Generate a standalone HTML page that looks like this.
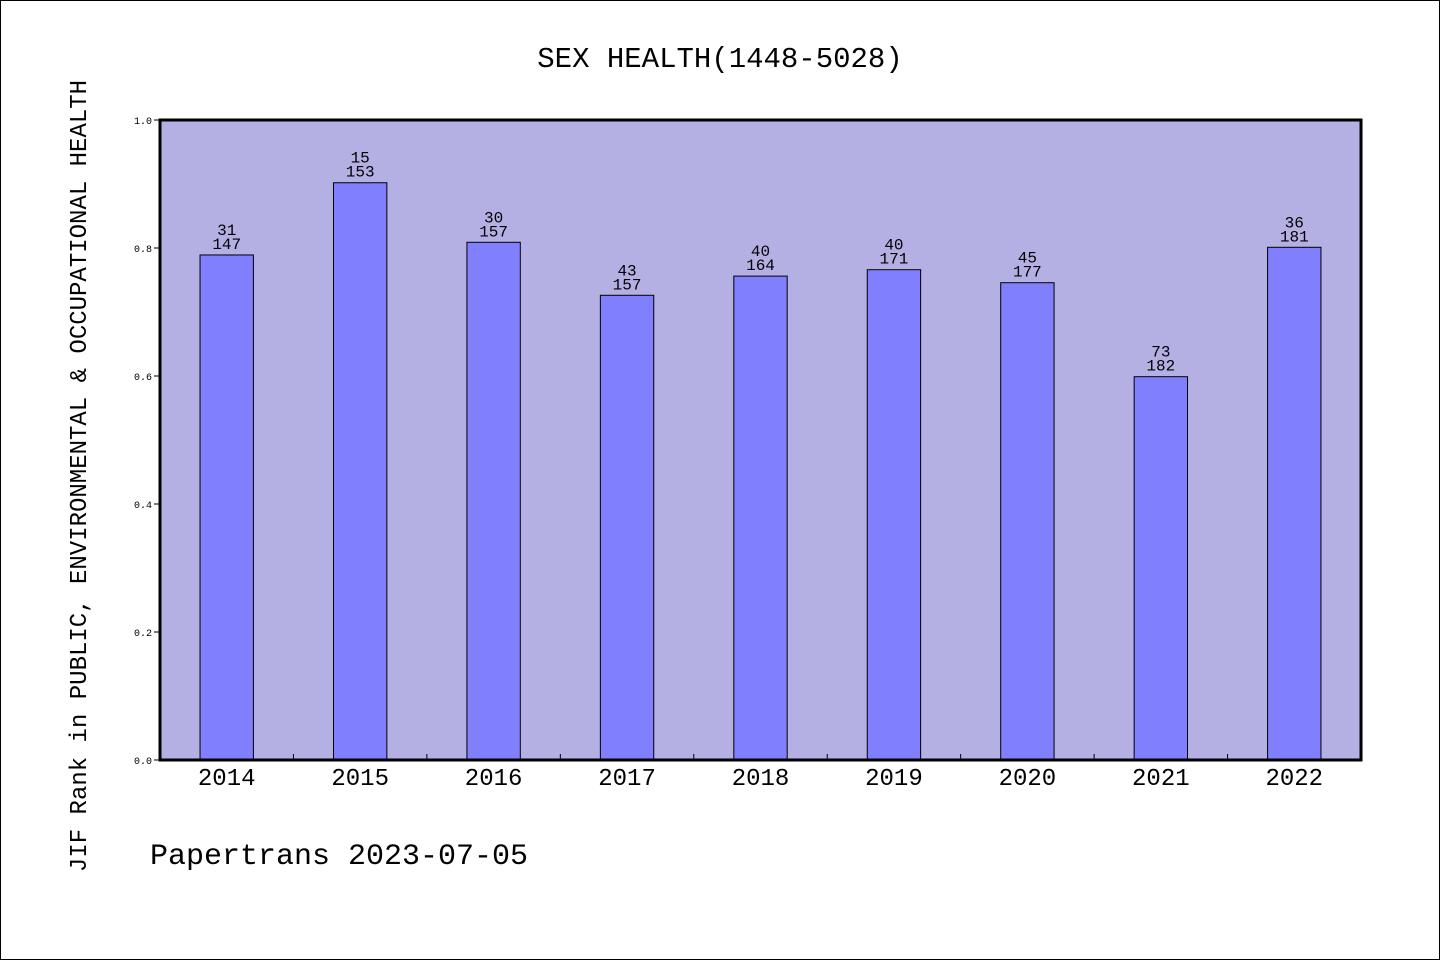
<!DOCTYPE html>
<html><head><meta charset="utf-8">
<style>
html,body{margin:0;padding:0;background:#fff}
#wrap{position:relative;width:1440px;height:960px;overflow:hidden}
svg text{font-family:"Liberation Mono","WenQuanYi Zen Hei",monospace;fill:#000}
</style></head>
<body>
<div id="wrap">
<svg id="chart" width="1440" height="960" xmlns="http://www.w3.org/2000/svg">
<rect x="0.5" y="0.5" width="1439" height="959" fill="#fff" stroke="#000"/>
<text x="720" y="67" text-anchor="middle" font-size="29">SEX HEALTH(1448-5028)</text>
<rect x="160" y="120" width="1201" height="640" fill="#b5b0e3"/>
<g id="ticks"></g>
<g id="bars"></g>
<rect x="160" y="120" width="1201" height="640" fill="none" stroke="#000" stroke-width="3"/>
<text transform="translate(86,476) rotate(-90)" text-anchor="middle" font-size="24">JIF Rank in PUBLIC, ENVIRONMENTAL &amp; OCCUPATIONAL HEALTH</text>
<text x="150" y="864" font-size="30">Papertrans 2023-07-05</text>
</svg>
</div>
<script>
const years = ["2014","2015","2016","2017","2018","2019","2020","2021","2022"];
const ranks = [31,15,30,43,40,40,45,73,36];
const totals = [147,153,157,157,164,171,177,182,181];
const yTicks = [0,0.2,0.4,0.6,0.8,1.0];
const NS="http://www.w3.org/2000/svg";
const L=160,R=1361,T=120,B=760;
const slot=(R-L)/years.length;
const xC=i=>L+slot*(i+0.5);
const yS=v=>B-(B-T)*v;
function mk(tag,attrs,parent){const e=document.createElementNS(NS,tag);for(const k in attrs)e.setAttribute(k,attrs[k]);parent.appendChild(e);return e;}
const tg=document.getElementById('ticks'), bg=document.getElementById('bars');
yTicks.forEach(v=>{
  const l=mk('line',{x1:L-6,x2:L,y1:yS(v),y2:yS(v),stroke:'#000','stroke-width':1},tg);
  
  
  const t=mk('text',{x:L-8,y:yS(v)+4,'text-anchor':'end','font-size':10},tg);
  t.textContent=v.toFixed(1);
  
  
});
for(let i=1;i<years.length;i++){
  const x=L+slot*i;
  const l=mk('line',{x1:x,x2:x,y1:B-6,y2:B,stroke:'#000','stroke-width':1},tg);
  
  
}
const bw=slot*0.4;
years.forEach((yr,i)=>{
  const v=1-ranks[i]/totals[i];
  const r=mk('rect',{x:xC(i)-bw/2,y:yS(v),width:bw,height:B-yS(v),fill:'#8080ff',stroke:'#000','stroke-width':1},bg);
  
  
  const t1=mk('text',{x:xC(i),y:yS(v)-20,'text-anchor':'middle','font-size':16},bg);
  t1.textContent=ranks[i];
  
  
  const t2=mk('text',{x:xC(i),y:yS(v)-6,'text-anchor':'middle','font-size':16},bg);
  t2.textContent=totals[i];
  
  
  const xl=mk('text',{x:xC(i),y:785,'text-anchor':'middle','font-size':24},bg);
  xl.textContent=yr;
  
  
});
</script>
</body></html>
